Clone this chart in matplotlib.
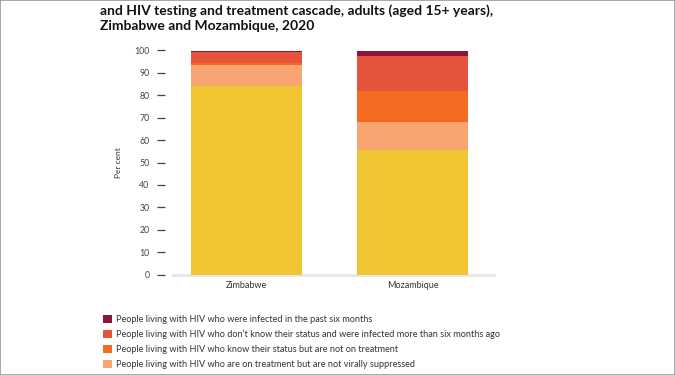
import matplotlib
matplotlib.use("Agg")
import matplotlib.pyplot as plt
from matplotlib.patches import Patch, Rectangle
import numpy as np

countries = ["Zimbabwe", "Mozambique"]
series_labels = [
    "People living with HIV who are virally suppressed",
    "People living with HIV who are on treatment but are not virally suppressed",
    "People living with HIV who know their status but are not on treatment",
    "People living with HIV who don\u2019t know their status and were infected more than six months ago",
    "People living with HIV who were infected in the past six months",
]
suppressed = [84.2, 55.5]
not_suppressed = [9.4, 12.7]
not_on_treatment = [0.6, 13.9]
unaware_old = [5.0, 15.5]
recent = [0.8, 2.4]
series_values = [suppressed, not_suppressed, not_on_treatment, unaware_old, recent]
colors = ["#EFC531", "#F8A572", "#F26B21", "#E5533A", "#8C1538"]
yticks = [0, 10, 20, 30, 40, 50, 60, 70, 80, 90, 100]

plt.rcParams["font.family"] = ["Lato", "DejaVu Sans"]

fig = plt.figure(figsize=(6.75, 3.75), dpi=100)
ax = fig.add_axes([173 / 675, 1 - 274.5 / 375, (494 - 173) / 675, (274.5 - 50.5) / 375])

for s in ["top", "right"]:
    ax.spines[s].set_visible(False)
ax.spines["left"].set_position(("outward", 6))
ax.spines["left"].set_visible(False)
ax.spines["bottom"].set_color("#e6e6e6")
ax.spines["bottom"].set_linewidth(2)
ax.spines["bottom"].set_zorder(1)

x = np.arange(len(countries))
bottom = np.zeros(len(countries))
for vals, c in zip(series_values, colors):
    ax.bar(x, vals, width=0.667, bottom=bottom, color=c, linewidth=0, zorder=2)
    bottom += np.array(vals)

ax.set_xlim(-0.44, 1.49)
ax.set_ylim(0, 100)
ax.set_yticks(yticks)
ax.set_yticklabels([str(t) for t in yticks])
ax.set_xticks(x)
ax.set_xticklabels(countries)
ax.tick_params(axis="x", length=0, pad=5, labelsize=6.5, labelcolor="#333333")
ax.tick_params(axis="y", length=6, width=0.9, color="#444444", pad=5,
               labelsize=6.3, labelcolor="#444444")
ax.set_ylabel("Per cent", fontsize=6, color="#333333")
ax.yaxis.set_label_coords(-(173 - 122) / 321, 0.5)

fig.text(100 / 675, 1 - 15 / 375, "and HIV testing and treatment cascade, adults (aged 15+ years),",
         fontsize=10, fontweight="bold", color="#111111", ha="left", va="baseline")
fig.text(100 / 675, 1 - 30 / 375, "Zimbabwe and Mozambique, 2020",
         fontsize=10, fontweight="bold", color="#111111", ha="left", va="baseline")

handles = [Patch(facecolor=c, edgecolor="none") for c in colors][::-1]
labels = series_labels[::-1]
fig.legend(handles, labels, loc="upper left", bbox_to_anchor=(102.5 / 675, 1 - 315 / 375),
           frameon=False, fontsize=6.6, handlelength=1.0, handleheight=1.0,
           handletextpad=0.5, labelspacing=0.62, borderaxespad=0, borderpad=0,
           labelcolor="#333333")

fig.patches.append(Rectangle((0, 0), 1, 1, transform=fig.transFigure, fill=False,
                             edgecolor="#9a9a9a", linewidth=1.2, zorder=10))

fig.savefig("out.png", dpi=100)
